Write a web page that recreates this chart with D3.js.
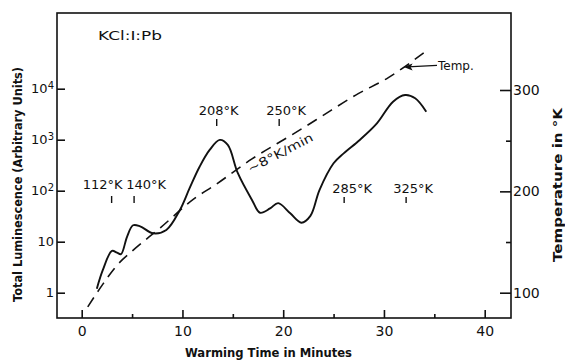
<!DOCTYPE html>
<html>
<head>
<meta charset="utf-8">
<script src="https://cdn.jsdelivr.net/npm/d3@7"></script>
<style>
  body { margin: 0; background: #fff; }
  text { font-family: "DejaVu Sans", sans-serif; fill: #111; }
</style>
</head>
<body>
<div class="chart"></div>
<script>
// luminescence glow curve (minutes, arbitrary units)
var lumTime = [1.5, 2.1, 3.0, 3.5, 3.9, 4.5, 5.1, 5.8, 7.1, 8.4, 9.75, 10.7, 11.7, 12.7, 13.7, 14.5, 15.5, 16.9, 17.7, 18.7, 19.5, 20.7, 21.8, 22.7, 23.6, 25.0, 26.0, 27.6, 29.3, 30.9, 32.1, 33.1, 34.2];
var lumValue = [1.2, 2.8, 6.6, 6.1, 5.7, 12.5, 21, 20, 14.6, 17, 42, 111, 295, 630, 990, 790, 220, 66, 37, 45, 57, 36, 23.6, 32, 103, 345, 540, 990, 2090, 5560, 7520, 6480, 3540];

// sample temperature (dashed), degrees K
var tempTime = [0.6, 2.0, 3.5, 5.0, 7.8, 11.2, 13.2, 16.9, 20.9, 23.5, 27.2, 30.4, 34.0];
var tempK = [86, 107, 127, 141, 164, 193, 206, 232, 256, 272, 295, 312, 337];

// peak temperature markers
var peakLabels = ["112°K", "140°K", "208°K", "250°K", "285°K", "325°K"];
var peakTimes = [2.97, 5.2, 13.4, 19.6, 26.05, 32.2];

var xTicks = [0, 10, 20, 30, 40];
var xMinor = [5, 15, 25, 35];
var lumTicks = [1, 10, 100, 1000, 10000];
var tempTicks = [100, 200, 300];
var tempMinor = [150, 250];

var W = 565, H = 360;
var frame = {left: 57, right: 511, top: 13, bottom: 318};

var svg = d3.select(".chart")
    .append("svg")
    .attr("width", W)
    .attr("height", H);

var x = d3.scaleLinear().domain([0, 40]).range([81.7, 484.7]);
var yL = d3.scaleLog().domain([1, 10000]).range([292.7, 88.7]);
var yR = d3.scaleLinear().domain([100, 300]).range([292.7, 90]);

// frame
svg.append("rect")
    .attr("x", frame.left)
    .attr("y", frame.top)
    .attr("width", frame.right - frame.left)
    .attr("height", frame.bottom - frame.top)
    .style("fill", "none")
    .style("stroke", "#111")
    .style("stroke-width", 1.6);

function styleAxis(g) {
    g.select(".domain").remove();
    g.selectAll("line").style("stroke", "#111").style("stroke-width", 1.6);
    g.selectAll("text").style("font-family", "DejaVu Sans, sans-serif").style("fill", "#111");
}

// bottom axis
svg.append("g")
    .attr("transform", "translate(0," + frame.bottom + ")")
    .call(d3.axisBottom(x).tickValues(xTicks).tickSizeInner(-8).tickSizeOuter(0).tickPadding(8))
    .call(styleAxis)
    .selectAll("text").style("font-size", "14px");
svg.append("g")
    .attr("transform", "translate(0," + frame.bottom + ")")
    .call(d3.axisBottom(x).tickValues(xMinor).tickSizeInner(-4).tickSizeOuter(0).tickFormat(""))
    .call(styleAxis);

// left log axis
var left = svg.append("g")
    .attr("transform", "translate(" + frame.left + ",0)")
    .call(d3.axisLeft(yL).tickValues(lumTicks).tickSizeInner(-8).tickSizeOuter(0).tickPadding(3))
    .call(styleAxis);
left.selectAll("text")
    .style("font-size", "13px")
    .each(function(d) {
        var t = d3.select(this);
        if (d >= 100) {
            t.text("10");
            t.append("tspan")
                .attr("dy", "-0.45em")
                .style("font-size", "10px")
                .text(String(Math.round(Math.log10(d))));
        }
    });

// right temperature axis
svg.append("g")
    .attr("transform", "translate(" + frame.right + ",0)")
    .call(d3.axisRight(yR).tickValues(tempTicks).tickSizeInner(-11).tickSizeOuter(0).tickPadding(2))
    .call(styleAxis)
    .selectAll("text").style("font-size", "14px");
svg.append("g")
    .attr("transform", "translate(" + frame.right + ",0)")
    .call(d3.axisRight(yR).tickValues(tempMinor).tickSizeInner(-5).tickSizeOuter(0).tickFormat(""))
    .call(styleAxis);

// temperature dashed curve
var tempPts = tempTime.map(function(t, i) { return [t, tempK[i]]; });
svg.append("path")
    .datum(tempPts)
    .attr("d", d3.line()
        .x(function(d) { return x(d[0]); })
        .y(function(d) { return yR(d[1]); })
        .curve(d3.curveMonotoneX))
    .style("fill", "none")
    .style("stroke", "#111")
    .style("stroke-width", 1.6)
    .style("stroke-dasharray", "11,7");

// luminescence solid curve
var lumPts = lumTime.map(function(t, i) { return [t, lumValue[i]]; });
svg.append("path")
    .datum(lumPts)
    .attr("d", d3.line()
        .x(function(d) { return x(d[0]); })
        .y(function(d) { return yL(d[1]); })
        .curve(d3.curveCatmullRom.alpha(0.5)))
    .style("fill", "none")
    .style("stroke", "#111")
    .style("stroke-width", 1.9);

// peak markers
var labelDx = [-9, 12, 2, 7, 8, 7];
var rowBase = [189, 189, 115, 115, 193, 193];
var rowTick = [[196, 203], [196, 203], [119, 126], [119, 126], [197, 203], [197, 203]];
peakLabels.forEach(function(lab, i) {
    var px = x(peakTimes[i]);
    svg.append("text")
        .attr("x", px + labelDx[i])
        .attr("y", rowBase[i])
        .attr("text-anchor", "middle")
        .style("font-size", "13px")
        .text(lab);
    svg.append("line")
        .attr("x1", px).attr("x2", px)
        .attr("y1", rowTick[i][0]).attr("y2", rowTick[i][1])
        .style("stroke", "#111")
        .style("stroke-width", 1.4);
});

// heating-rate note just under the dashed line
var tempAt = d3.scaleLinear().domain(tempTime).range(tempK);
var ta = 18.2, tb = 22.2;
var ax = x(ta), ay = yR(tempAt(ta)), bx = x(tb), by = yR(tempAt(tb));
var ang = Math.atan2(by - ay, bx - ax) * 180 / Math.PI + 4;
svg.append("text")
    .attr("transform", "translate(" + ((ax + bx) / 2 - 3) + "," + ((ay + by) / 2 + 18) + ") rotate(" + ang + ")")
    .attr("text-anchor", "middle")
    .attr("textLength", 72)
    .attr("lengthAdjust", "spacingAndGlyphs")
    .style("font-size", "12px")
    .text("~8°K/min");

// Temp. arrow
var tipT = 31.95;
var tipX = x(tipT), tipY = yR(tempAt(tipT));
svg.append("line")
    .attr("x1", tipX + 4).attr("y1", tipY)
    .attr("x2", 437).attr("y2", tipY - 1.5)
    .style("stroke", "#111")
    .style("stroke-width", 1.2);
svg.append("path")
    .attr("d", "M" + tipX + "," + tipY + "l9,-3.5l-2,3.5l2,3.5z")
    .style("fill", "#111");
svg.append("text")
    .attr("x", 438)
    .attr("y", tipY + 3.5)
    .style("font-size", "12px")
    .text("Temp.");

// sample name
svg.append("text")
    .attr("x", 98)
    .attr("y", 40)
    .attr("textLength", 64)
    .attr("lengthAdjust", "spacingAndGlyphs")
    .style("font-size", "12.5px")
    .text("KCl:I:Pb");

// axis titles
svg.append("text")
    .attr("transform", "translate(22,184.5) rotate(-90)")
    .attr("text-anchor", "middle")
    .attr("textLength", 235)
    .attr("lengthAdjust", "spacingAndGlyphs")
    .style("font-size", "12px")
    .style("font-weight", "bold")
    .text("Total Luminescence (Arbitrary Units)");

svg.append("text")
    .attr("transform", "translate(562,185) rotate(-90)")
    .attr("text-anchor", "middle")
    .attr("textLength", 154)
    .attr("lengthAdjust", "spacingAndGlyphs")
    .style("font-size", "12px")
    .style("font-weight", "bold")
    .text("Temperature in °K");

svg.append("text")
    .attr("x", 268.5)
    .attr("y", 357)
    .attr("text-anchor", "middle")
    .attr("textLength", 167)
    .attr("lengthAdjust", "spacingAndGlyphs")
    .style("font-size", "12px")
    .style("font-weight", "bold")
    .text("Warming Time in Minutes");
</script>
</body>
</html>
